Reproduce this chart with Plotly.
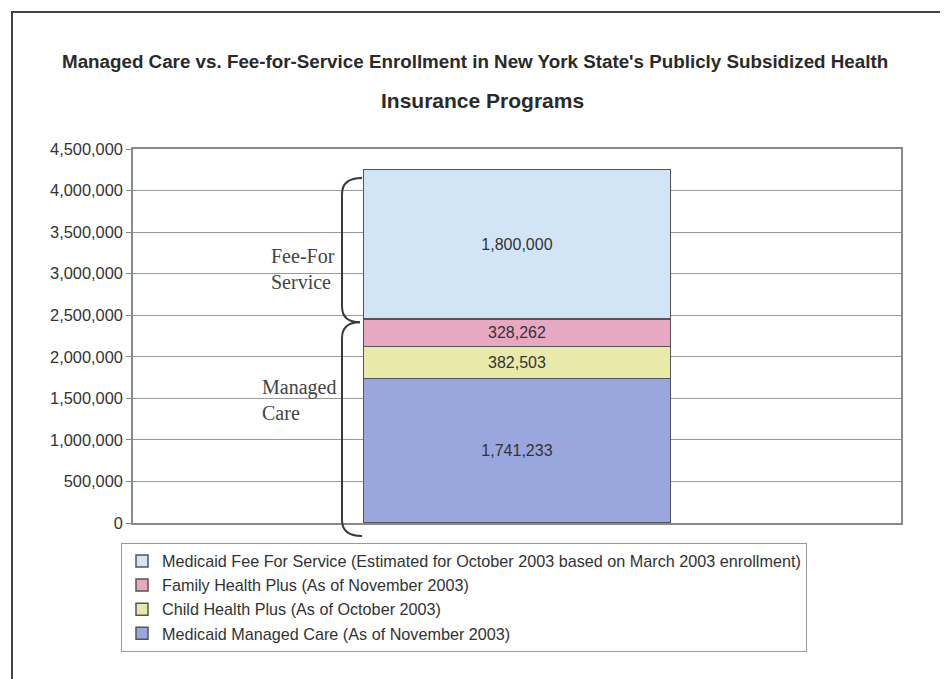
import plotly.graph_objects as go

# ---- data ----
category = ["Enrollment"]
series_names = [
    "Medicaid Managed Care (As of November 2003)",
    "Child Health Plus (As of October 2003)",
    "Family Health Plus (As of November 2003)",
    "Medicaid Fee For Service (Estimated for October 2003 based on March 2003 enrollment)",
]
series_values = [1741233, 382503, 328262, 1800000]
series_colors = ["#9aa6de", "#e9eaa9", "#e9a8c1", "#d2e5f6"]
y_tickvals = [0, 500000, 1000000, 1500000, 2000000, 2500000, 3000000, 3500000, 4000000, 4500000]
y_ticktext = ["0", "500,000", "1,000,000", "1,500,000", "2,000,000", "2,500,000",
              "3,000,000", "3,500,000", "4,000,000", "4,500,000"]
YMAX = 4500000

# page is offset by the 8px body margin
OFF = 8
W, H = 948 - OFF, 679 - OFF
PL, PR, PT, PB = 133, 901, 149, 523          # plot area in page pixels
ML, MT = PL - OFF, PT - OFF
MR, MB = W - (PR - OFF), H - (PB - OFF)
PW = PR - PL
PH = PB - PT


def px_x(p):
    return (p - PL) / PW


def px_y(p):
    return (PB - p) / PH


SANS = "Liberation Sans, Arial, sans-serif"
SERIF = "Liberation Serif, Times New Roman, serif"

fig = go.Figure()
for name, val, col in zip(series_names, series_values, series_colors):
    fig.add_trace(go.Bar(
        x=category, y=[val], name=name,
        marker=dict(color=col, line=dict(color="#555555", width=1.5)),
        width=0.4,
        texttemplate="%{y:,}", textposition="inside", insidetextanchor="middle",
        textfont=dict(family=SANS, size=16, color="#333333"),
        hoverinfo="skip",
    ))

# brace geometry (pixels -> paper)
xl, xe = 342, 362
cusp = PB - sum(series_values[:3]) / YMAX * PH + 3
top_end, bot_end = 178, 536
r = 16
brace_top = (f"M {px_x(xe)},{px_y(top_end)} Q {px_x(xl)},{px_y(top_end)} {px_x(xl)},{px_y(top_end + r)} "
             f"L {px_x(xl)},{px_y(cusp - r)} Q {px_x(xl)},{px_y(cusp)} {px_x(xe - 2)},{px_y(cusp)}")
brace_bot = (f"M {px_x(xe - 2)},{px_y(cusp)} Q {px_x(xl)},{px_y(cusp)} {px_x(xl)},{px_y(cusp + r)} "
             f"L {px_x(xl)},{px_y(bot_end - r)} Q {px_x(xl)},{px_y(bot_end)} {px_x(xe)},{px_y(bot_end)}")

shapes = [
    dict(type="path", xref="paper", yref="paper", path=brace_top,
         line=dict(color="#3a3a3a", width=2)),
    dict(type="path", xref="paper", yref="paper", path=brace_bot,
         line=dict(color="#3a3a3a", width=2)),
    # outer frame of the scanned chart
    dict(type="rect", xref="paper", yref="paper",
         x0=px_x(12), x1=px_x(990), y0=px_y(12), y1=px_y(720),
         line=dict(color="#444444", width=2), fillcolor="rgba(0,0,0,0)", layer="below"),
]

annotations = [
    dict(text="<b>Managed Care vs. Fee-for-Service Enrollment in New York State's Publicly Subsidized Health</b>",
         xref="paper", yref="paper", x=px_x(475), y=px_y(62), showarrow=False,
         font=dict(family=SANS, size=18.8, color="#2a2a2a"), xanchor="center", yanchor="middle"),
    dict(text="<b>Insurance Programs</b>",
         xref="paper", yref="paper", x=px_x(482), y=px_y(101), showarrow=False,
         font=dict(family=SANS, size=21, color="#2a2a2a"), xanchor="center", yanchor="middle"),
    dict(text="Fee-For<br>Service", xref="paper", yref="paper", x=px_x(337), y=px_y(269),
         showarrow=False, align="left", xanchor="right", yanchor="middle",
         font=dict(family=SERIF, size=20, color="#444444")),
    dict(text="Managed<br>Care", xref="paper", yref="paper", x=px_x(338), y=px_y(400),
         showarrow=False, align="left", xanchor="right", yanchor="middle",
         font=dict(family=SERIF, size=20, color="#444444")),
]

fig.update_layout(
    width=W, height=H,
    margin=dict(l=ML, r=MR, t=MT, b=MB, pad=0),
    paper_bgcolor="white", plot_bgcolor="white",
    barmode="stack",
    showlegend=True,
    legend=dict(traceorder="reversed", x=px_x(121), y=px_y(543), xanchor="left", yanchor="top",
                bgcolor="white", bordercolor="#9a9a9a", borderwidth=1,
                font=dict(family=SANS, size=16.2, color="#333333"),
                itemwidth=30, tracegroupgap=0),
    xaxis=dict(showticklabels=False, showgrid=False, showline=True, linecolor="#8a8a8a",
               linewidth=1.5, mirror=True, ticks="", range=[-0.5, 0.5]),
    yaxis=dict(range=[0, YMAX], tickvals=y_tickvals, ticktext=y_ticktext,
               showgrid=True, gridcolor="#9a9a9a", gridwidth=1.2,
               showline=True, linecolor="#8a8a8a", linewidth=1.5, mirror=True,
               ticks="outside", ticklen=5, tickcolor="#8a8a8a",
               tickfont=dict(family=SANS, size=16.4, color="#333333"), zeroline=False),
    shapes=shapes,
    annotations=annotations,
)

fig.write_html("out.html")
